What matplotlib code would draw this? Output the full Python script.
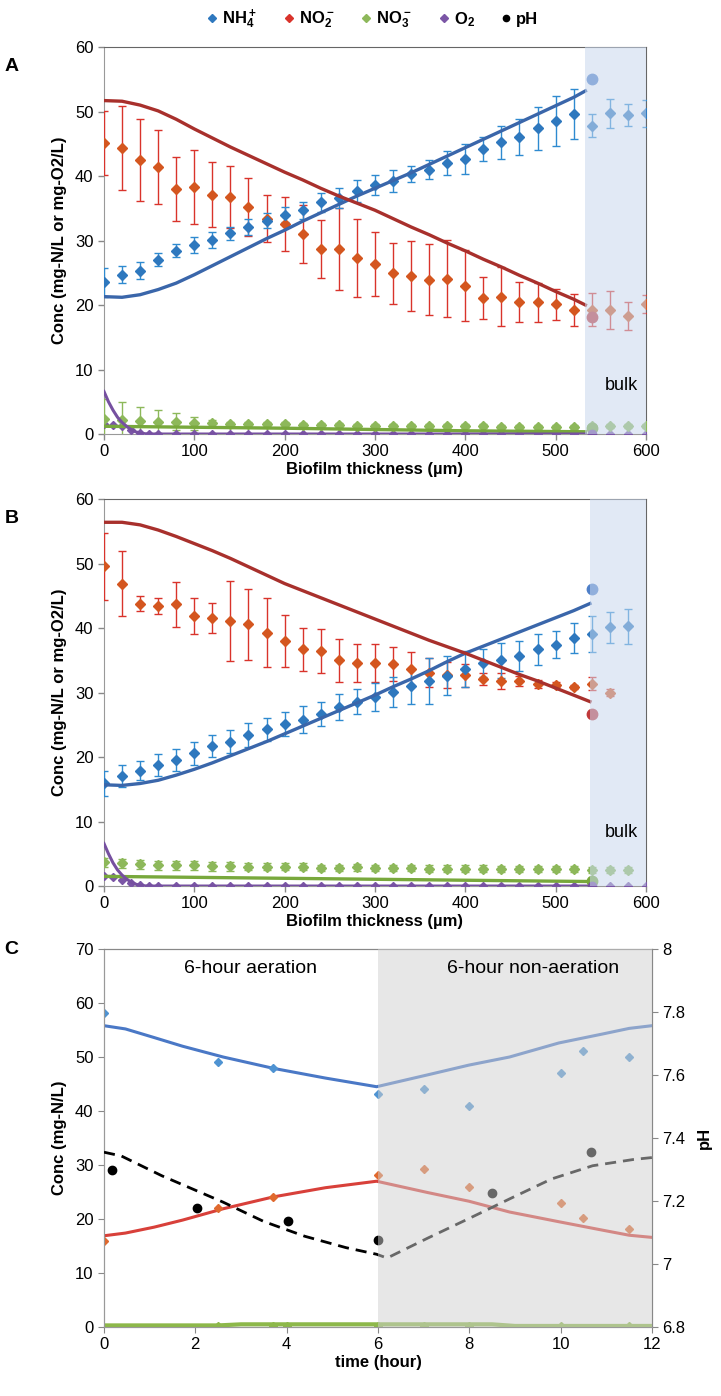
import numpy as np
import matplotlib
matplotlib.use('Agg')
import matplotlib.pyplot as plt
from matplotlib.lines import Line2D

plt.rcParams['font.family'] = ['Liberation Sans', 'DejaVu Sans']
plt.rcParams['mathtext.fontset'] = 'custom'
plt.rcParams['mathtext.rm'] = 'Liberation Sans'
plt.rcParams['mathtext.bf'] = 'Liberation Sans:bold'

# ---------------- panel A : biofilm profile ----------------
x_meas = list(range(0, 601, 20))
x_o2 = [0, 10, 20, 30, 40, 50] + list(range(60, 601, 20))

a_nh4 = [23.5, 24.7, 25.3, 27.0, 28.4, 29.3, 30.1, 31.1, 32.1, 33.1, 34.0, 34.7, 35.9, 36.6,
         37.7, 38.6, 39.3, 40.3, 41.0, 42.0, 42.6, 44.2, 45.2, 46.0, 47.4, 48.5, 49.6,
         47.8, 49.7, 49.4, 49.7]
a_nh4_err = [2.3, 1.3, 1.3, 1.0, 1.0, 1.2, 1.3, 1.0, 1.2, 1.1, 1.2, 1.3, 1.4, 1.6, 1.7, 1.6,
             1.7, 1.3, 1.5, 1.9, 2.3, 1.8, 2.6, 2.8, 3.3, 3.9, 3.9, 1.8, 2.2, 1.7, 2.1]
a_no2 = [45.1, 44.3, 42.5, 41.4, 38.0, 38.3, 37.1, 36.8, 35.2, 33.4, 32.5, 31.0, 28.7, 28.7,
         27.3, 26.4, 24.9, 24.5, 23.9, 24.1, 23.0, 21.1, 21.3, 20.4, 20.4, 20.1, 19.2,
         19.3, 19.2, 18.3, 20.2]
a_no2_err = [5.0, 6.5, 6.4, 5.8, 5.0, 5.8, 5.0, 4.8, 4.5, 3.7, 4.2, 4.5, 4.5, 6.3, 6.0, 5.0,
             4.7, 5.5, 5.5, 6.0, 5.5, 3.2, 4.6, 3.1, 3.0, 2.4, 2.5, 2.5, 2.9, 2.2, 1.4]
a_no3 = [2.4, 2.2, 2.0, 1.9, 1.9, 1.7, 1.7, 1.6, 1.5, 1.5, 1.5, 1.4, 1.4, 1.4, 1.3, 1.3,
         1.3, 1.3, 1.2, 1.2, 1.2, 1.2, 1.1, 1.1, 1.1, 1.1, 1.1, 1.2, 1.2, 1.2, 1.2]
a_no3_err = [3.0, 2.8, 2.2, 1.8, 1.3, 1.0, 0.4] + [0.3] * 24
a_o2 = [1.6, 1.4, 1.2, 0.6, 0.2, 0.05] + [0.0] * 28

xm_a = [0, 20, 40, 60, 80, 100, 120, 140, 160, 180, 200, 220, 240, 260, 280, 300, 320, 340,
        360, 380, 400, 420, 440, 460, 480, 500, 520, 533]
a_nh4_mod = [21.3, 21.2, 21.6, 22.4, 23.4, 24.7, 26.1, 27.5, 28.9, 30.3, 31.6, 33.0, 34.3,
             35.6, 36.9, 38.1, 39.3, 40.5, 41.8, 43.1, 44.4, 45.7, 47.0, 48.3, 49.6, 50.9,
             52.2, 53.2]
a_no2_mod = [51.7, 51.6, 51.0, 50.1, 48.8, 47.3, 45.9, 44.5, 43.2, 41.9, 40.6, 39.4, 38.1,
             36.9, 35.8, 34.7, 33.4, 32.1, 30.9, 29.6, 28.4, 27.1, 25.9, 24.6, 23.4, 22.1,
             20.9, 20.0]
xo2m_a = [0, 5, 10, 15, 20, 25, 30, 35, 40, 45, 50, 533]
a_o2_mod = [6.6, 5.0, 3.7, 2.6, 1.8, 1.2, 0.7, 0.35, 0.15, 0.05, 0.0, 0.0]
xno3m_a = [0, 100, 200, 300, 400, 533]
a_no3_mod = [1.2, 1.05, 0.9, 0.7, 0.5, 0.35]
a_bulk_model = {'nh4': 55.0, 'no2': 18.2, 'no3': 1.0, 'o2': 0.0}
a_bulk_start = 533

# ---------------- panel B ----------------
b_nh4 = [15.9, 17.1, 17.9, 18.8, 19.6, 20.6, 21.7, 22.4, 23.4, 24.3, 25.1, 25.8, 26.7, 27.8,
         28.6, 29.3, 30.1, 31.0, 31.8, 32.6, 33.6, 34.6, 35.0, 35.7, 36.7, 37.4, 38.5,
         39.1, 40.1, 40.3]
b_nh4_err = [1.9, 1.7, 1.5, 1.7, 1.7, 1.8, 1.7, 1.8, 1.9, 1.8, 1.9, 2.1, 1.9, 2.0, 2.0, 2.2,
             2.3, 2.7, 3.5, 3.0, 2.8, 2.2, 2.7, 2.3, 2.4, 2.1, 2.3, 2.8, 2.4, 2.7]
b_no2 = [49.6, 46.9, 43.8, 43.4, 43.7, 41.9, 41.6, 41.1, 40.6, 39.3, 38.0, 36.7, 36.5, 35.0,
         34.6, 34.6, 34.4, 33.7, 33.1, 32.7, 32.7, 32.1, 31.8, 31.8, 31.3, 31.2, 30.8,
         31.4, 30.0]
b_no2_err = [5.2, 5.0, 1.2, 1.2, 3.5, 2.8, 2.3, 6.2, 5.5, 5.3, 4.0, 3.3, 3.4, 3.3, 2.9, 2.9,
             2.6, 2.6, 2.2, 2.0, 1.8, 1.0, 1.2, 0.8, 0.6, 0.4, 0.3, 1.0, 0.6]
b_no3 = [3.7, 3.5, 3.4, 3.2, 3.2, 3.2, 3.1, 3.1, 3.0, 3.0, 3.0, 3.0, 2.8, 2.8, 2.9, 2.8,
         2.8, 2.8, 2.7, 2.7, 2.7, 2.7, 2.6, 2.6, 2.6, 2.6, 2.6, 2.5, 2.5, 2.5]
b_no3_err = [0.7] * 8 + [0.5] * 22
b_o2 = [1.5, 1.4, 1.0, 0.4, 0.1, 0.0] + [0.0] * 28

xm_b = [0, 20, 40, 60, 80, 100, 120, 140, 160, 180, 200, 220, 240, 260, 280, 300, 320, 340,
        360, 380, 400, 420, 440, 460, 480, 500, 520, 538]
b_nh4_mod = [15.7, 15.6, 15.9, 16.4, 17.2, 18.1, 19.1, 20.2, 21.3, 22.4, 23.6, 24.8, 26.0,
             27.2, 28.4, 29.6, 30.9, 32.1, 33.4, 34.8, 36.1, 37.2, 38.3, 39.4, 40.5, 41.6,
             42.7, 43.8]
b_no2_mod = [56.4, 56.4, 56.0, 55.2, 54.2, 53.1, 52.0, 50.8, 49.5, 48.2, 46.9, 45.8, 44.7,
             43.6, 42.5, 41.4, 40.3, 39.2, 38.1, 37.1, 36.1, 35.0, 33.9, 32.8, 31.8, 30.7,
             29.6, 28.6]
xo2m_b = [0, 5, 10, 15, 20, 25, 30, 35, 40, 45, 50, 538]
b_o2_mod = [6.6, 5.0, 3.6, 2.5, 1.7, 1.1, 0.6, 0.3, 0.1, 0.03, 0.0, 0.0]
xno3m_b = [0, 100, 200, 300, 400, 538]
b_no3_mod = [1.5, 1.35, 1.2, 1.05, 0.9, 0.7]
b_bulk_model = {'nh4': 46.1, 'no2': 26.6, 'no3': 0.8, 'o2': 0.0}
b_bulk_start = 538

# ---------------- panel C : cycle ----------------
t_nh4 = [0, 2.5, 3.7, 6, 7, 8, 10, 10.5, 11.5]
c_nh4 = [58.2, 49.1, 48.0, 43.1, 44.1, 41.0, 47.1, 51.1, 50.0]
c_no2 = [16.0, 22.1, 24.0, 28.1, 29.2, 26.0, 23.0, 20.1, 18.1]
t_no3 = [2.5, 3.7, 4, 6, 7, 8, 10, 11.5]
c_no3 = [0.1, 0.1, 0.1, 0.1, 0.1, 0.1, 0.1, 0.1]
t_ph = [0.18, 2.03, 4.02, 6.0, 8.5, 10.67]
c_ph = [7.298, 7.177, 7.137, 7.075, 7.226, 7.356]

t_mod = [0, 0.47, 1.1, 1.72, 2.61, 3.71, 4.85, 5.97, 7.09, 7.99, 8.88, 9.96, 10.94, 11.5, 12]
c_nh4_mod = [55.8, 55.2, 53.6, 52.0, 50.0, 47.9, 46.1, 44.5, 46.7, 48.5, 50.0, 52.6, 54.3,
             55.3, 55.8]
c_no2_mod = [16.9, 17.4, 18.5, 19.8, 21.9, 24.1, 25.8, 27.0, 24.9, 23.3, 21.3, 19.5, 17.9,
             17.0, 16.6]
t_no3_mod = [0, 2.5, 3, 6, 8.5, 9, 12]
c_no3_mod = [0.3, 0.3, 0.5, 0.5, 0.5, 0.2, 0.2]
t_ph_mod = [0, 0.38, 1.27, 2.6, 3.5, 4.4, 5.3, 5.97, 6.2, 7.1, 8.0, 8.9, 9.8, 10.7, 11.6, 12]
c_ph_mod = [7.355, 7.343, 7.28, 7.197, 7.135, 7.088, 7.052, 7.031, 7.019, 7.083, 7.145,
            7.208, 7.27, 7.312, 7.332, 7.338]

# colours
NH4_M, NH4_E, NH4_L = '#2E78BE', '#2E8AD0', '#3A66AA'
NO2_M, NO2_E, NO2_L = '#D4561F', '#D9332B', '#A8302C'
NO3_M, NO3_L = '#8DB85A', '#78A83C'
O2_M, O2_L = '#7B56A6', '#7650A0'
BULK = '#C9D8EE'

fig = plt.figure(figsize=(7.21, 13.96), dpi=100)
axA = fig.add_axes([0.1442, 0.6891, 0.7517, 0.2772])
axB = fig.add_axes([0.1442, 0.3653, 0.7517, 0.2772])
axC = fig.add_axes([0.1442, 0.0494, 0.7601, 0.2708])


def profile(ax, nh4, nh4e, no2, no2e, no3, no3e, o2, xm, nh4m, no2m, xo2m, o2m, xno3m, no3m,
            bulk_model, bulk_start, letter, bulk_y):
    n1, n2, n3 = len(nh4), len(no2), len(no3)
    ekw = dict(fmt='D', ms=4.8, capsize=3, elinewidth=1.0, capthick=1.0)
    ax.errorbar(x_meas[:n3], no3, yerr=no3e, color=NO3_M, ecolor=NO3_M, zorder=3, **ekw)
    ax.plot(x_o2, o2, 'D', ms=4.2, color=O2_M, zorder=3)
    ax.errorbar(x_meas[:n2], no2, yerr=no2e, color=NO2_M, ecolor=NO2_E, zorder=3, **ekw)
    ax.errorbar(x_meas[:n1], nh4, yerr=nh4e, color=NH4_M, ecolor=NH4_E, zorder=3, **ekw)
    ax.plot(xm, nh4m, color=NH4_L, lw=2.4, zorder=4)
    ax.plot(xm, no2m, color=NO2_L, lw=2.4, zorder=4)
    ax.plot(xno3m, no3m, color=NO3_L, lw=2.4, zorder=4)
    ax.plot(xo2m, o2m, color=O2_L, lw=2.2, zorder=4)
    bx = 540
    ax.plot(bx, bulk_model['nh4'], 'o', ms=7.5, color='#4E7FC8', zorder=4)
    ax.plot(bx, bulk_model['no2'], 'o', ms=7.5, color='#C0383A', zorder=4)
    ax.plot(bx, bulk_model['no3'], 'o', ms=7.5, color=NO3_L, zorder=4)
    ax.plot(bx, bulk_model['o2'], 'o', ms=6, color=O2_L, zorder=4)
    ax.axvspan(bulk_start, 600, color=BULK, alpha=0.55, lw=0, zorder=6)
    ax.text(573, bulk_y, 'bulk', fontsize=13, ha='center', va='center', zorder=7)
    ax.set_xlim(0, 600)
    ax.set_ylim(0, 60)
    ax.set_xticks(range(0, 601, 100))
    ax.set_yticks(range(0, 61, 10))
    ax.tick_params(labelsize=12, direction='out', length=4, color='#888888', width=1)
    ax.set_xlabel('Biofilm thickness (µm)', fontsize=12, fontweight='bold', labelpad=2)
    ax.set_ylabel('Conc (mg-N/L or mg-O2/L)', fontsize=12, fontweight='bold', labelpad=6)
    for s in ['left', 'bottom']:
        ax.spines[s].set_color('#999999')
    for s in ['top', 'right']:
        ax.spines[s].set_color('#666666')
    ax.text(-0.17, 0.95, letter, transform=ax.transAxes, fontsize=14, fontweight='bold',
            ha='center', va='center')


profile(axA, a_nh4, a_nh4_err, a_no2, a_no2_err, a_no3, a_no3_err, a_o2, xm_a, a_nh4_mod,
        a_no2_mod, xo2m_a, a_o2_mod, xno3m_a, a_no3_mod, a_bulk_model, a_bulk_start, 'A', 7.5)
profile(axB, b_nh4, b_nh4_err, b_no2, b_no2_err, b_no3, b_no3_err, b_o2, xm_b, b_nh4_mod,
        b_no2_mod, xo2m_b, b_o2_mod, xno3m_b, b_no3_mod, b_bulk_model, b_bulk_start, 'B', 8.3)

# panel C
axC.plot(t_mod, c_nh4_mod, color='#4A78C6', lw=2.2, zorder=3)
axC.plot(t_mod, c_no2_mod, color='#D8403A', lw=2.2, zorder=3)
axC.plot(t_no3_mod, c_no3_mod, color='#8DB84A', lw=3, zorder=3)
axC.plot(t_nh4, c_nh4, 'D', ms=4.2, color='#4F93D2', zorder=4)
axC.plot(t_nh4, c_no2, 'D', ms=4.2, color='#E0692E', zorder=4)
axC.plot(t_no3, c_no3, 'D', ms=4.2, color='#8DB84A', zorder=4)
axC.set_xlim(0, 12)
axC.set_ylim(0, 70)
axC.set_xticks(range(0, 13, 2))
axC.set_yticks(range(0, 71, 10))
axC.tick_params(labelsize=12, direction='out', length=4, color='#888888')
axC.set_xlabel('time (hour)', fontsize=12, fontweight='bold', labelpad=2)
axC.set_ylabel('Conc (mg-N/L)', fontsize=12, fontweight='bold', labelpad=6)

axR = axC.twinx()
axR.plot(t_ph_mod, c_ph_mod, '--', color='black', lw=2, dashes=(4, 2.5), zorder=3)
axR.plot(t_ph, c_ph, 'o', ms=6, color='black', zorder=4)
axR.axvspan(6, 12, color='#D0D0D0', alpha=0.5, lw=0, zorder=6)
axR.set_ylim(6.8, 8.0)
axR.set_yticks([6.8, 7.0, 7.2, 7.4, 7.6, 7.8, 8.0])
axR.set_yticklabels(['6.8', '7', '7.2', '7.4', '7.6', '7.8', '8'])
axR.tick_params(labelsize=12, direction='out', length=4, color='#888888')
axR.set_ylabel('pH', fontsize=12, fontweight='bold', labelpad=8)
axR.text(3.2, 66.3 / 70 * 1.2 + 6.8, '6-hour aeration', fontsize=14, ha='center',
         va='center', zorder=8)
axR.text(9.4, 66.3 / 70 * 1.2 + 6.8, '6-hour non-aeration', fontsize=14, ha='center',
         va='center', zorder=8)
for a in (axC, axR):
    a.spines['left'].set_color('#999999')
    a.spines['bottom'].set_color('#999999')
    a.spines['top'].set_color('#888888')
    a.spines['right'].set_color('#888888')
axC.text(-0.17, 1.0, 'C', transform=axC.transAxes, fontsize=14, fontweight='bold',
         ha='center', va='center')

# legend on top
handles = [
    Line2D([], [], ls='', marker='D', ms=4.5, color='#2E78BE'),
    Line2D([], [], ls='', marker='D', ms=4.5, color='#D9332B'),
    Line2D([], [], ls='', marker='D', ms=4.5, color='#8DB85A'),
    Line2D([], [], ls='', marker='D', ms=4.5, color='#7B56A6'),
    Line2D([], [], ls='', marker='o', ms=4.5, color='black'),
]
labels = [r'$\mathbf{NH_4^+}$', r'$\mathbf{NO_2^-}$', r'$\mathbf{NO_3^-}$', r'$\mathbf{O_2}$',
          'pH']
leg = fig.legend(handles, labels, loc='center', bbox_to_anchor=(0.515, 0.986), ncol=5,
                 frameon=False, handletextpad=0.1, columnspacing=1.4,
                 handlelength=1.0, prop={'weight': 'bold', 'size': 12})

fig.savefig('out.png', dpi=100)
